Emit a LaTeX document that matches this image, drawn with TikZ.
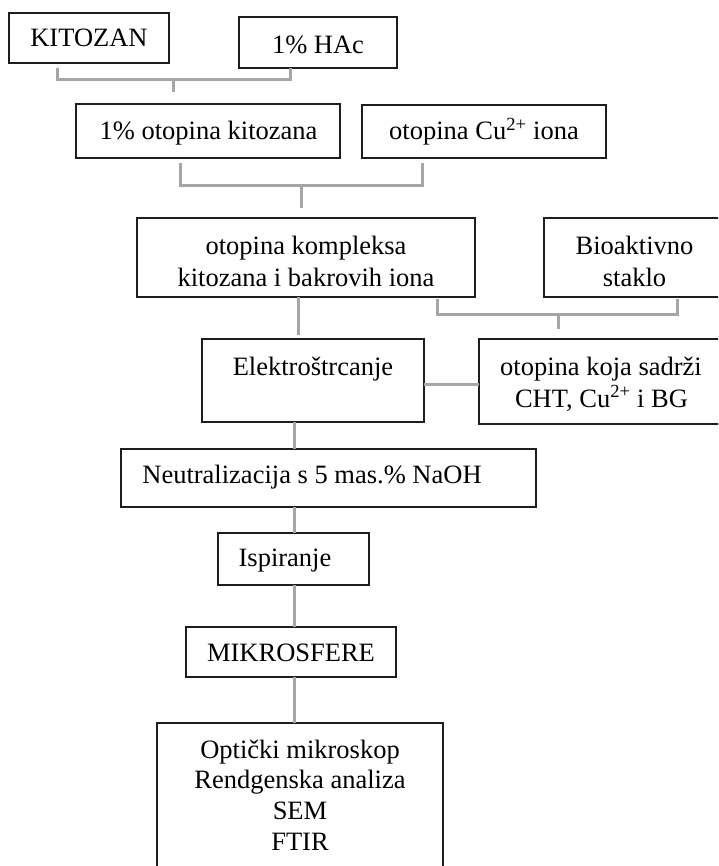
\documentclass[tikz,border=0pt]{standalone}
\usepackage{fontspec}
\setmainfont{Liberation Serif}
\usetikzlibrary{calc}
\definecolor{linegray}{RGB}{166,166,166}
\definecolor{boxline}{RGB}{30,30,30}
\begin{document}
\begin{tikzpicture}[x=1pt,y=-1pt,
  box/.style={draw=boxline, line width=1.5pt, inner sep=0pt, outer sep=0pt},
  txt/.style={anchor=base, inner sep=0pt, outer sep=0pt, font=\fontsize{26.5}{31}\selectfont},
  conn/.style={draw=linegray, line width=3pt}]
\useasboundingbox (0,0) rectangle (718,866);
\fill[white] (0,0) rectangle (718,866);
\clip (0,0) rectangle (718,866);

% boxes
\node[box, minimum width=160pt, minimum height=50pt] (kit) at (89,38) {};
\node[box, minimum width=158pt, minimum height=51pt] (hac) at (318,42.5) {};
\node[box, minimum width=264pt, minimum height=54pt] (otk) at (208,131) {};
\node[box, minimum width=244pt, minimum height=53pt] (cu) at (484,131.5) {};
\node[box, minimum width=338pt, minimum height=79pt] (kom) at (306,257.5) {};
\node[box, minimum width=181pt, minimum height=79pt] (bio) at (634.5,257.5) {};
\node[box, minimum width=222pt, minimum height=83pt] (ele) at (313,380.5) {};
\node[box, minimum width=244pt, minimum height=85pt] (sad) at (601,381.5) {};
\node[box, minimum width=415pt, minimum height=58pt] (neu) at (328.5,478) {};
\node[box, minimum width=151pt, minimum height=52pt] (isp) at (293.5,559) {};
\node[box, minimum width=210pt, minimum height=50pt] (mik) at (291,652) {};
\node[box, minimum width=286pt, minimum height=160pt] (fin) at (300,803) {};

% texts
\node[txt] (kitT) at (89,47) {KITOZAN};
\node[txt] (hacT) at (318,53.3) {1\% HAc};
\node[txt] (otkT) at (208.5,139.5) {1\% otopina kitozana};
\node[txt] (cuT) at (484,140) {otopina Cu\textsuperscript{2+} iona};
\node[txt] (komT1) at (306,254.5) {otopina kompleksa};
\node[txt] (komT2) at (306,286.7) {kitozana i bakrovih iona};
\node[txt] (bioT1) at (634.5,254.5) {Bioaktivno};
\node[txt] (bioT2) at (634.5,286.7) {staklo};
\node[txt] (eleT) at (313,375) {Elektroštrcanje};
\node[txt] (sadT1) at (601,375) {otopina koja sadrži};
\node[txt] (sadT2) at (601.5,407) {CHT, Cu\textsuperscript{2+} i BG};
\node[txt] (neuT) at (312,483.3) {Neutralizacija s 5 mas.\% NaOH};
\node[txt] (ispT) at (285,566.7) {Ispiranje};
\node[txt] (mikT) at (291,661.7) {MIKROSFERE};
\node[txt] (finT1) at (300,758.3) {Optički mikroskop};
\node[txt] (finT2) at (300,788.3) {Rendgenska analiza};
\node[txt] (finT3) at (300,819.3) {SEM};
\node[txt] (finT4) at (300,850) {FTIR};

% bracket 1
\coordinate (b1a) at (57,68);
\coordinate (b1b) at (290,68);
\coordinate (b1m) at (173,80);
\coordinate (b1e) at (173,92);
\draw[conn] (b1a) |- (b1m) -| (b1b);
\draw[conn] (b1m) -- (b1e);

% bracket 2
\coordinate (b2a) at (180,163);
\coordinate (b2b) at (422,163);
\coordinate (b2m) at (301,186);
\coordinate (b2e) at (301,208);
\draw[conn] (b2a) |- (b2m) -| (b2b);
\draw[conn] (b2m) -- (b2e);

% bracket 3
\coordinate (b3a) at (437,299);
\coordinate (b3b) at (677,299);
\coordinate (b3m) at (558,314);
\coordinate (b3e) at (558,329);
\draw[conn] (b3a) |- (b3m) -| (b3b);
\draw[conn] (b3m) -- (b3e);

% vertical chain
\coordinate (xa) at (298,0);
\coordinate (xb) at (294,0);
\coordinate (ya) at (0,384);
\draw[conn] (kom.south -| xa) -- ($(ele.north -| xa)+(0,-4)$);
\draw[conn] (ele.east |- ya) -- (sad.west |- ya);
\draw[conn] (ele.south -| xb) -- (neu.north -| xb);
\draw[conn] (neu.south -| xb) -- (isp.north -| xb);
\draw[conn] (isp.south -| xb) -- (mik.north -| xb);
\draw[conn] (mik.south -| xb) -- (fin.north -| xb);
\end{tikzpicture}
\end{document}
